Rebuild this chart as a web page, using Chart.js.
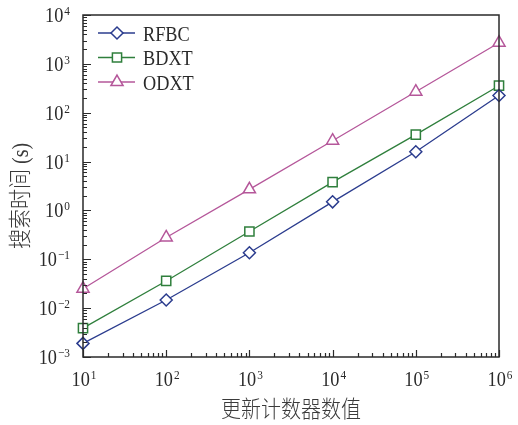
<!DOCTYPE html>
<html>
<head>
<meta charset="utf-8">
<script src="https://cdn.jsdelivr.net/npm/chart.js@4/dist/chart.umd.min.js"></script>
<style>
  html, body { margin: 0; padding: 0; background: #fff; }
</style>
</head>
<body>
<canvas id="chart" width="518" height="425"></canvas>
<script>
// counter values (x) and search time in seconds (y)
const counts = [1e1, 1e2, 1e3, 1e4, 1e5, 1e6];
const rfbc = [0.0019, 0.0147, 0.136, 1.5, 15.9, 225];
const bdxt = [0.0039, 0.036, 0.37, 3.8, 35.5, 357];
const odxt = [0.025, 0.28, 2.7, 26.7, 269, 2710];

const xExps = [1, 2, 3, 4, 5, 6];
const yExps = [-3, -2, -1, 0, 1, 2, 3, 4];

const xTitle = "更新计数器数值";
const yTitle = "搜索时间 (s)";

const SERIF = '"Liberation Serif", "Times New Roman", serif';
const SX = 0.87; // reference text is a bit narrow
const INK = "#2a2a2a";

function pts(ys) {
  return counts.map((c, i) => ({ x: c, y: ys[i] }));
}

const series = [
  { label: "RFBC", data: rfbc, color: "#2b3c8e", style: "rectRot", r: 6 },
  { label: "BDXT", data: bdxt, color: "#2f7f3c", style: "rect", r: 6.5 },
  { label: "ODXT", data: odxt, color: "#b5579a", style: "triangle", r: 7 }
];

function txt(ctx, s, x, y, font, align, base) {
  ctx.save();
  ctx.font = font;
  ctx.textAlign = align || "left";
  ctx.textBaseline = base || "alphabetic";
  ctx.translate(x, y);
  ctx.scale(SX, 1);
  ctx.fillText(s, 0, 0);
  ctx.restore();
}

function supStr(e) {
  return e < 0 ? "\u2212" + Math.abs(e) : String(e);
}

// draws 10^e, x is right edge or centre, y is the baseline
function drawPow(ctx, e, x, y, align) {
  const bigFont = "21px " + SERIF, smallFont = "13px " + SERIF;
  ctx.font = bigFont;
  const w1 = ctx.measureText("10").width * SX;
  ctx.font = smallFont;
  const w2 = ctx.measureText(supStr(e)).width * SX;
  let left = align === "right" ? x - w1 - w2 - 1 : x - (w1 + w2 + 1) / 2;
  txt(ctx, "10", left, y, bigFont);
  txt(ctx, supStr(e), left + w1 + 1, y - 7, smallFont);
}

const axesPlugin = {
  id: "axesPlugin",
  afterDatasetsDraw(chart) {
    const ctx = chart.ctx;
    const a = chart.chartArea;
    const xs = chart.scales.x, ys = chart.scales.y;
    ctx.save();
    ctx.strokeStyle = INK;
    ctx.fillStyle = INK;

    // frame
    ctx.lineWidth = 1.5;
    ctx.strokeRect(a.left, a.top, a.right - a.left, a.bottom - a.top);

    // y ticks (inward, left side)
    ctx.lineWidth = 1.2;
    ctx.beginPath();
    yExps.forEach(e => {
      for (let m = 1; m <= 9; m++) {
        const v = m * Math.pow(10, e);
        if (v > ys.max * 1.0001) break;
        const py = Math.round(ys.getPixelForValue(v)) + 0.5;
        ctx.moveTo(a.left, py);
        ctx.lineTo(a.left + (m === 1 ? 8 : 4), py);
      }
    });
    // x ticks (inward, bottom side)
    xExps.forEach(e => {
      for (let m = 1; m <= 9; m++) {
        const v = m * Math.pow(10, e);
        if (v > xs.max * 1.0001) break;
        const px = Math.round(xs.getPixelForValue(v)) + 0.5;
        ctx.moveTo(px, a.bottom);
        ctx.lineTo(px, a.bottom - (m === 1 ? 7 : 4));
      }
    });
    ctx.stroke();

    // tick labels
    yExps.forEach(e => {
      drawPow(ctx, e, 70, ys.getPixelForValue(Math.pow(10, e)) + 7, "right");
    });
    xExps.forEach(e => {
      drawPow(ctx, e, xs.getPixelForValue(Math.pow(10, e)) + 1, 386, "center");
    });

    // axis titles
    const titleFont = "300 23px " + SERIF + ', "Noto Sans CJK SC"';
    ctx.fillStyle = "#3a3a3a";
    txt(ctx, xTitle, (a.left + a.right) / 2, 411, titleFont, "center", "middle");
    ctx.save();
    ctx.translate(22, 196);
    ctx.rotate(-Math.PI / 2);
    txt(ctx, yTitle, 0, 0, titleFont, "center", "middle");
    ctx.restore();

    // legend, top left inside the plot
    series.forEach((s, i) => {
      const cy = a.top + 18 + i * 24.5;
      ctx.strokeStyle = s.color;
      ctx.lineWidth = 1.3;
      ctx.beginPath();
      ctx.moveTo(a.left + 15, cy);
      ctx.lineTo(a.left + 52, cy);
      ctx.stroke();
      ctx.fillStyle = "#fff";
      ctx.lineWidth = 1.5;
      Chart.helpers.drawPoint(ctx, { pointStyle: s.style, radius: s.r, borderWidth: 1.5 }, a.left + 34, cy);
      ctx.fillStyle = INK;
      txt(ctx, s.label, a.left + 60, cy + 7.5, "21px " + SERIF);
    });
    ctx.restore();
  }
};

new Chart(document.getElementById("chart"), {
  type: "scatter",
  data: {
    datasets: series.map(s => ({
      label: s.label,
      data: pts(s.data),
      showLine: true,
      borderColor: s.color,
      borderWidth: 1.3,
      pointStyle: s.style,
      pointRadius: s.r,
      pointBorderWidth: 1.5,
      pointBackgroundColor: "#fff",
      pointBorderColor: s.color,
      clip: false
    }))
  },
  options: {
    responsive: false,
    animation: false,
    devicePixelRatio: 1,
    layout: { padding: { left: 83, top: 15, right: 19, bottom: 68 } },
    scales: {
      x: { type: "logarithmic", min: 10, max: 1e6, display: false },
      y: { type: "logarithmic", min: 1e-3, max: 1e4, display: false }
    },
    plugins: {
      legend: { display: false },
      tooltip: { enabled: false }
    }
  },
  plugins: [axesPlugin]
});
</script>
</body>
</html>
